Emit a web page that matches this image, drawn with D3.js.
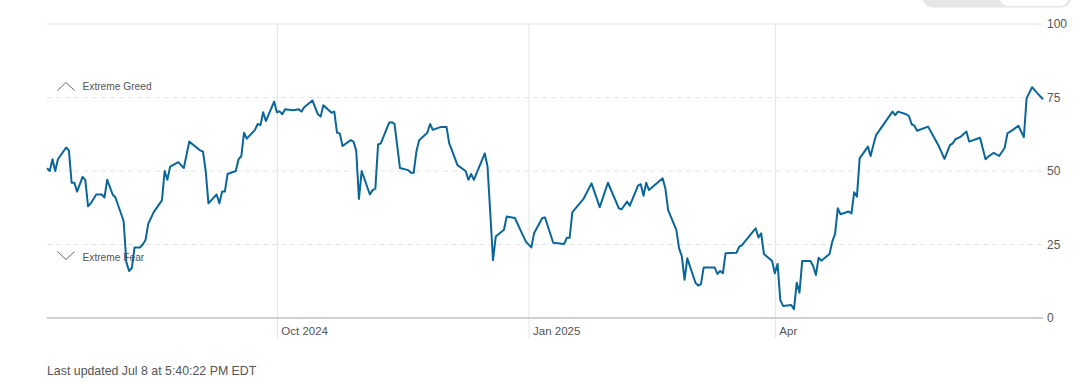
<!DOCTYPE html>
<html>
<head>
<meta charset="utf-8">
<script src="https://cdn.jsdelivr.net/npm/d3@7"></script>
<style>
  body { margin: 0; background: #fff; }
  svg text { font-family: "Liberation Sans", Arial, sans-serif; }
</style>
</head>
<body>
<script>
//fear & greed index readings, one per date
var dates = [
  "2024-07-09","2024-07-10","2024-07-11","2024-07-12","2024-07-13","2024-07-16","2024-07-17","2024-07-18","2024-07-19","2024-07-20",
  "2024-07-22","2024-07-23","2024-07-24","2024-07-25","2024-07-27","2024-07-29","2024-07-30","2024-07-31","2024-08-02","2024-08-03",
  "2024-08-06","2024-08-07","2024-08-08","2024-08-09","2024-08-10","2024-08-12","2024-08-13","2024-08-14","2024-08-15","2024-08-17",
  "2024-08-20","2024-08-21","2024-08-22","2024-08-23","2024-08-26","2024-08-28","2024-08-30","2024-09-03","2024-09-04","2024-09-05",
  "2024-09-06","2024-09-09","2024-09-10","2024-09-11","2024-09-12","2024-09-13","2024-09-16","2024-09-17","2024-09-18","2024-09-19",
  "2024-09-20","2024-09-23","2024-09-24","2024-09-25","2024-09-26","2024-09-27","2024-09-30","2024-10-01","2024-10-02","2024-10-03",
  "2024-10-04","2024-10-07","2024-10-09","2024-10-10","2024-10-11","2024-10-14","2024-10-16","2024-10-17","2024-10-18","2024-10-21",
  "2024-10-22","2024-10-23","2024-10-24","2024-10-25","2024-10-28","2024-10-29","2024-10-30","2024-10-31","2024-11-01","2024-11-04",
  "2024-11-05","2024-11-06","2024-11-07","2024-11-08","2024-11-11","2024-11-12","2024-11-13","2024-11-15","2024-11-18","2024-11-19",
  "2024-11-20","2024-11-21","2024-11-22","2024-11-25","2024-11-26","2024-11-27","2024-11-30","2024-12-02","2024-12-03","2024-12-04",
  "2024-12-06","2024-12-09","2024-12-10","2024-12-11","2024-12-12","2024-12-16","2024-12-17","2024-12-19","2024-12-20","2024-12-23",
  "2024-12-24","2024-12-27","2024-12-29","2024-12-31","2025-01-02","2025-01-03","2025-01-06","2025-01-07","2025-01-10","2025-01-14",
  "2025-01-15","2025-01-16","2025-01-17","2025-01-21","2025-01-24","2025-01-27","2025-01-30","2025-02-03","2025-02-04","2025-02-06",
  "2025-02-07","2025-02-10","2025-02-11","2025-02-12","2025-02-13","2025-02-14","2025-02-19","2025-02-20","2025-02-21","2025-02-24",
  "2025-02-25","2025-02-26","2025-02-27","2025-02-28","2025-03-03","2025-03-04","2025-03-05","2025-03-06","2025-03-10","2025-03-11",
  "2025-03-12","2025-03-13","2025-03-14","2025-03-18","2025-03-19","2025-03-20","2025-03-24","2025-03-25","2025-03-26","2025-03-27",
  "2025-03-28","2025-03-31","2025-04-01","2025-04-02","2025-04-03","2025-04-04","2025-04-07","2025-04-08","2025-04-09","2025-04-10",
  "2025-04-11","2025-04-14","2025-04-15","2025-04-16","2025-04-17","2025-04-18","2025-04-21","2025-04-22","2025-04-23","2025-04-24",
  "2025-04-25","2025-04-28","2025-04-29","2025-04-30","2025-05-01","2025-05-02","2025-05-05","2025-05-06","2025-05-07","2025-05-08",
  "2025-05-11","2025-05-14","2025-05-15","2025-05-16","2025-05-19","2025-05-20","2025-05-21","2025-05-22","2025-05-23","2025-05-27",
  "2025-05-29","2025-05-31","2025-06-02","2025-06-04","2025-06-05","2025-06-06","2025-06-08","2025-06-10","2025-06-11","2025-06-15",
  "2025-06-17","2025-06-18","2025-06-20","2025-06-22","2025-06-24","2025-06-25","2025-06-27","2025-06-29","2025-07-01","2025-07-02",
  "2025-07-04","2025-07-06","2025-07-08"
];
var scores = [
  51,50,54,50,54,58,57,46,46,43,
  48,47,38,39,42,42,41,47,42,41,
  33,19,16,17,24,24,25,26.5,32,36,
  40,50,47,51.5,53,51,60,57,56.6,50,
  39,42,39,43,43,49,50,54,55,63,
  61,64,66,65.6,70,67,73.6,70,70.3,69.3,
  71,70.7,71,70.2,71.7,74,69.3,68.5,72.4,69.8,
  70.2,63,62.8,58.5,60.5,60,57,40.5,50,42,
  43.5,44,59,59.4,66.4,66.6,66,51,50.3,49.4,
  49.4,56.6,60.5,63,66,64,65,65,59.4,57,
  52,50,47,49,47,56,51.5,19.7,27.7,30,
  34.5,34,30,26,24,28.8,34,34.2,25.6,25.2,
  27.3,27.3,36,40.4,45.8,37.7,46,37.3,37,39.6,
  38.2,45,45.5,41.6,46,43.5,47.5,44,36.7,30,
  23.7,21,13,20.3,12,11,11.5,17.2,17.2,15,
  16,15.2,22,22.2,24.3,24.8,29.4,30.5,27.4,28.8,
  21.8,19.4,15.2,18.4,6.1,4.1,4.4,3,12,8.6,
  19.4,19.4,17.7,14.6,20.5,19.5,21.8,26,28.6,37.3,
  35.3,36.2,35.6,42.8,41.3,54.3,58.3,55.1,58.8,62.2,
  66.2,70.2,69,70.2,69.3,68.7,65.9,65.4,63.7,65.1,
  61.7,58.3,54.1,58.8,59.4,60.8,61.7,63.4,60,61.3,
  54,54.9,56.2,55.1,57.9,62.8,64,65.4,61.5,74.7,
  78.5,76.4,74.4
];

//axis ticks
var xTickDates = ["2024-10-01", "2025-01-01", "2025-04-01"];
var xTickLabels = ["Oct 2024", "Jan 2025", "Apr"];
var yTicks = [0, 25, 50, 75, 100];
var updatedText = "Last updated Jul 8 at 5:40:22 PM EDT";

function drawChart(){
    var width = 1086,
        height = 384;

    var parse = d3.timeParse("%Y-%m-%d");
    var data = dates.map(function(d, i){
        return { date: parse(d), value: scores[i] };
    });

    var svg = d3.select("body")
        .append("svg")
        .attr("width", width)
        .attr("height", height);

    var x = d3.scaleTime()
        .domain([parse("2024-07-09"), parse("2025-07-08")])
        .range([47, 1043]);

    var y = d3.scaleLinear()
        .domain([0, 100])
        .range([318, 24]);

    //toggle pill peeking in at the top right
    svg.append("rect")
        .attr("x", 923).attr("y", -20)
        .attr("width", 148).attr("height", 27.5)
        .attr("rx", 9)
        .attr("fill", "#e6e6e6");
    svg.append("rect")
        .attr("x", 1000).attr("y", -20)
        .attr("width", 68).attr("height", 26)
        .attr("rx", 8)
        .attr("fill", "#fff");

    //vertical gridlines + month labels
    var xAxis = d3.axisBottom(x)
        .tickValues(xTickDates.map(parse))
        .tickFormat(function(d, i){ return xTickLabels[i]; })
        .tickSize(20)
        .tickPadding(-8);
    var gx = svg.append("g")
        .attr("transform", "translate(0,318)")
        .call(xAxis);
    gx.select(".domain").remove();
    gx.selectAll(".tick line")
        .attr("y1", y(100) - 318)
        .attr("stroke", "#e3e3e3");
    gx.selectAll(".tick text")
        .attr("text-anchor", "start")
        .attr("x", 4)
        .attr("y", 9)
        .attr("dy", "0.71em")
        .attr("fill", "#555")
        .style("font-size", "11.5px");

    //horizontal gridlines
    svg.append("g")
        .selectAll("line")
        .data(yTicks.filter(function(d){ return d > 0; }))
        .enter()
        .append("line")
        .attr("x1", 47).attr("x2", 1043)
        .attr("y1", function(d){ return y(d); })
        .attr("y2", function(d){ return y(d); })
        .attr("stroke", "#e4e4e4")
        .attr("stroke-dasharray", function(d){ return d === 100 ? null : "5,4"; });

    //baseline
    svg.append("line")
        .attr("x1", 47).attr("x2", 1043)
        .attr("y1", y(0)).attr("y2", y(0))
        .attr("stroke", "#d0d0d0")
        .attr("stroke-width", 2);

    //right value axis
    var yAxis = d3.axisRight(y)
        .tickValues(yTicks)
        .tickSize(0)
        .tickPadding(4);
    var gy = svg.append("g")
        .attr("transform", "translate(1043,0)")
        .call(yAxis);
    gy.select(".domain").remove();
    gy.selectAll("text")
        .attr("fill", "#555")
        .style("font-size", "12px");

    //zone labels
    var zones = [
        { label: "Extreme Greed", dir: -1, ty: 86 },
        { label: "Extreme Fear", dir: 1, ty: 257 }
    ];
    zones.forEach(function(z){
        var cy = z.dir < 0 ? 86.5 : 255.5;
        svg.append("path")
            .attr("d", "M57.5," + (cy - z.dir * 4) + "L66," + (cy + z.dir * 4) + "L74.5," + (cy - z.dir * 4))
            .attr("fill", "none")
            .attr("stroke", "#666")
            .attr("stroke-width", 1);
        svg.append("text")
            .attr("x", 82.5)
            .attr("y", z.ty)
            .attr("dy", "0.35em")
            .attr("fill", "#555")
            .style("font-size", "10.2px")
            .text(z.label);
    });

    //index line
    var line = d3.line()
        .x(function(d){ return x(d.date); })
        .y(function(d){ return y(d.value); });

    svg.append("path")
        .datum(data)
        .attr("fill", "none")
        .attr("stroke", "#0a6699")
        .attr("stroke-width", 2)
        .attr("stroke-linejoin", "round")
        .attr("d", line);

    //footer
    svg.append("text")
        .attr("x", 47)
        .attr("y", 371)
        .attr("dy", "0.35em")
        .attr("fill", "#555")
        .style("font-size", "12.35px")
        .text(updatedText);
}

window.onload = drawChart;
</script>
</body>
</html>
